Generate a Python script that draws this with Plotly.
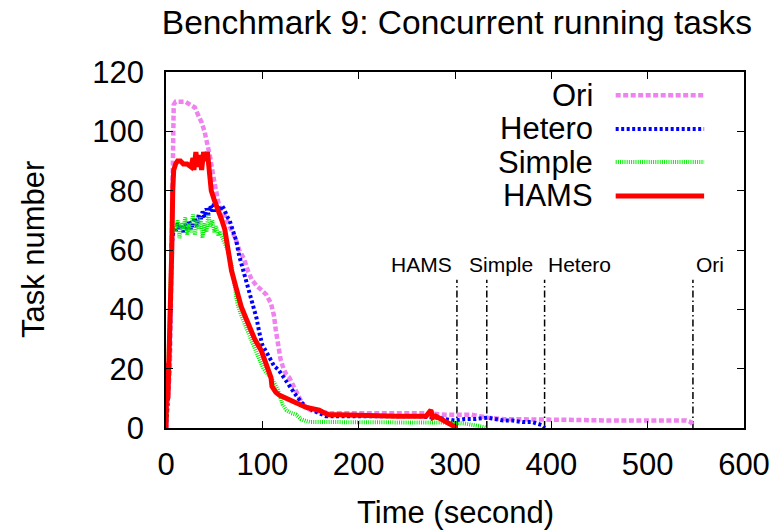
import plotly.graph_objects as go

# ---------------- data ----------------
ori_x = [0, 2, 4, 5, 6, 7, 8, 10, 15, 20, 25, 30, 34, 37, 40, 43, 46, 49, 52, 55, 58, 62, 66, 72, 76, 81, 85, 89, 94, 99, 104, 109, 112, 114, 116, 119, 122, 125, 128, 131, 135, 138, 141, 145, 150, 160, 170, 190, 210, 230, 250, 270, 290, 300, 310, 317, 325, 334, 350, 380, 400, 430, 460, 500, 530, 540, 545, 547]
ori_y = [0, 8, 20, 40, 70, 100, 109, 110, 110, 110, 109, 108, 105, 103, 100, 96, 91, 85, 79, 75, 73, 71, 68, 64, 60, 57, 53, 50, 48, 46.5, 45, 42, 38, 33, 28, 23, 20, 18, 17, 15, 13, 11, 8.5, 7, 6, 5.5, 5, 5, 5, 5, 5, 5, 4.5, 4.5, 4.5, 4.5, 4, 3.5, 3, 3, 3, 2.7, 2.5, 2.5, 2.3, 2.5, 2, 0.8]

hetero_x = [0, 2, 4, 5, 6, 8, 10, 12, 14, 16, 18, 20, 22, 24, 26, 28, 30, 32, 34, 36, 38, 40, 42, 44, 46, 48, 50, 52, 54, 56, 58, 60, 62, 64, 66, 68, 70, 73, 76, 81, 85, 90, 94, 97, 100, 107, 112, 117, 122, 126, 130, 135, 141, 146, 152, 160, 166, 180, 200, 220, 240, 260, 280, 290, 300, 310, 320, 334, 340, 350, 360, 370, 380, 386, 390, 393]
hetero_y = [0, 10, 30, 50, 62, 67, 66, 69, 67, 68, 66, 69, 67, 70, 67, 69, 71, 68, 72, 70, 73, 71, 74, 72, 75, 73, 76, 73, 75, 73, 75, 74, 72, 71, 70, 68, 66, 63, 58, 52, 47, 42, 37, 32, 28, 24, 21, 19.5, 17, 15, 13, 11, 8.5, 7, 6, 5, 4, 4, 4, 4, 4, 4, 3.5, 3, 2.5, 3, 3, 3.5, 3, 2.5, 2.5, 2, 2, 1.5, 1, 0]

simple_x = [0, 2, 4, 5, 6, 8, 10, 12, 14, 16, 18, 20, 22, 24, 26, 28, 30, 32, 34, 36, 38, 40, 42, 44, 46, 48, 50, 52, 54, 56, 60, 64, 68, 71, 74, 78, 83, 87, 92, 97, 101, 106, 111, 116, 119, 121, 125, 130, 135, 140, 145, 150, 170, 200, 250, 280, 300, 310, 320, 328, 333]
simple_y = [0, 15, 40, 55, 65, 68, 66, 70, 64, 69, 67, 71, 65, 69, 66, 72, 65, 70, 67, 71, 64, 69, 66, 72, 68, 70, 66, 68, 65, 66, 63, 60, 55, 48, 42, 38, 34, 31, 27, 23, 20, 18, 16, 13, 10, 8, 6, 5, 4.5, 3, 2.4, 2, 2, 2, 2, 2, 1.8, 1.5, 1, 0.5, 0]

hams_x = [0, 1, 2, 3, 4, 5, 6, 7, 8, 10, 12, 15, 18, 22, 26, 28, 29, 31, 33, 35, 37, 39, 41, 43, 45, 47, 50, 54, 58, 61, 64, 68, 73, 78, 83, 87, 92, 99, 104, 109, 110, 114, 118, 125, 131, 138, 145, 152, 159, 165, 169, 180, 200, 220, 240, 260, 270, 275, 277, 280, 285, 290, 296, 302]
hams_y = [0, 22, 10, 20, 30, 45, 60, 80, 87, 89, 90, 90, 89, 89, 88, 91, 87, 93, 88, 92, 87, 93, 90, 93, 88, 80, 77, 74, 70, 67, 60, 53, 47, 41, 37, 34, 30, 26, 21, 17, 14, 12, 11, 10, 9.4, 8, 7, 6.5, 6, 5, 4.5, 4.5, 4.2, 4, 4, 4, 4, 6, 3.5, 4, 3, 2, 1, 0]

finish_labels = ["HAMS", "Simple", "Hetero", "Ori"]
finish_x = [302, 333, 393, 547]
finish_top = 50
finish_label_x = [299, 348, 394, 548]
finish_label_anchor = ["right", "center", "left", "left"]
finish_label_y = 55

x_ticks = [0, 100, 200, 300, 400, 500, 600]
y_ticks = [0, 20, 40, 60, 80, 100, 120]

FONT = "Liberation Sans, Arial, Helvetica, sans-serif"

series = [
    ("Ori", ori_x, ori_y, "#ee82ee", 4.5, "5px,2.5px"),
    ("Hetero", hetero_x, hetero_y, "#0000ff", 4, "3px,2.5px"),
    ("Simple", simple_x, simple_y, "#00ee00", 4, "1px,1.2px"),
    ("HAMS", hams_x, hams_y, "#ff0000", 5, "solid"),
]

fig = go.Figure()

for xv, lab in zip(finish_x, finish_labels):
    fig.add_trace(go.Scatter(
        x=[xv, xv], y=[0, finish_top], mode="lines",
        line=dict(color="black", width=1.5, dash="7px,3px,1.5px,3px"),
        showlegend=False, hoverinfo="skip"))

for name, xs, ys, col, w, dash in series:
    fig.add_trace(go.Scatter(
        x=xs, y=ys, mode="lines", name=name,
        line=dict(color=col, width=w, dash=dash),
        showlegend=False))

# legend drawn manually (text left of sample, gnuplot style)
leg_y = [0.935, 0.840, 0.747, 0.652]
for (name, xs, ys, col, w, dash), ly in zip(series, leg_y):
    fig.add_annotation(x=0.742, y=ly, xref="paper", yref="paper",
                       text=name, showarrow=False, xanchor="right",
                       yanchor="middle", font=dict(size=31, color="black", family=FONT))
    fig.add_shape(type="line", xref="paper", yref="paper",
                  x0=0.778, x1=0.931, y0=ly, y1=ly,
                  line=dict(color=col, width=w, dash=dash))

for lab, lx, anc in zip(finish_labels, finish_label_x, finish_label_anchor):
    fig.add_annotation(x=lx, y=finish_label_y, xref="x", yref="y", text=lab,
                       showarrow=False, xanchor=anc, yanchor="middle",
                       font=dict(size=21, color="black", family=FONT))

# axis titles
fig.add_annotation(x=0.5, y=-0.236, xref="paper", yref="paper",
                   text="Time (second)", showarrow=False,
                   xanchor="center", yanchor="middle",
                   font=dict(size=31, color="black", family=FONT))
fig.add_annotation(x=-0.23, y=0.5, xref="paper", yref="paper",
                   text="Task number", showarrow=False, textangle=-90,
                   xanchor="center", yanchor="middle",
                   font=dict(size=31, color="black", family=FONT))

axis_common = dict(showline=True, linecolor="black", linewidth=1.5,
                   mirror="allticks", ticks="inside", ticklen=7,
                   tickwidth=1.2, tickcolor="black", showgrid=False,
                   zeroline=False,
                   tickfont=dict(size=31, color="black", family=FONT))

fig.update_layout(
    width=782, height=531,
    margin=dict(l=166, r=34, t=72, b=103),
    paper_bgcolor="white", plot_bgcolor="white",
    title=dict(text="Benchmark 9: Concurrent running tasks",
               x=0.5844, xanchor="center", y=0.958, yanchor="middle",
               font=dict(size=33.5, color="black", family=FONT)),
    xaxis=dict(range=[0, 600], tickvals=x_ticks, ticklabelstandoff=8,
               **axis_common),
    yaxis=dict(range=[0, 120], tickvals=y_ticks, ticklabelstandoff=14,
               **axis_common),
    showlegend=False,
)

fig.write_html("out.html")
